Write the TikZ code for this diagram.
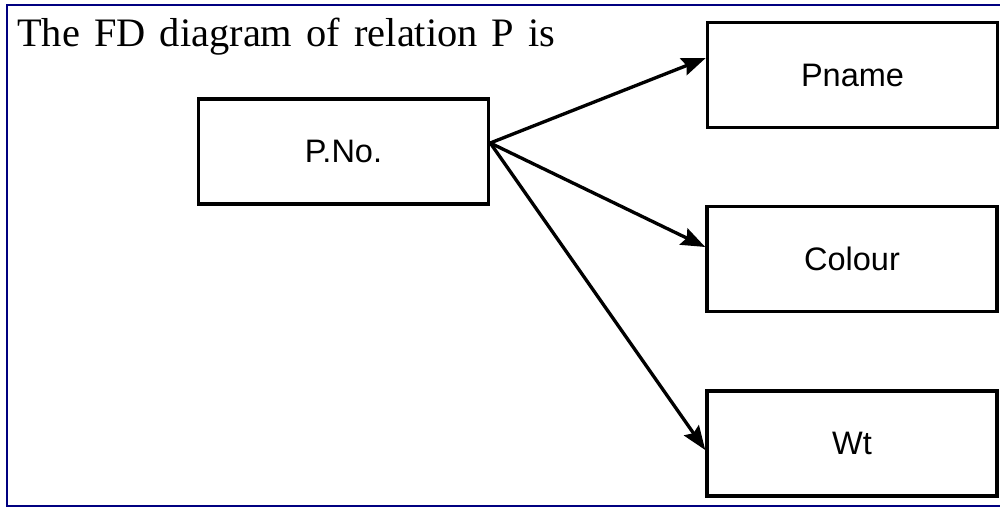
\documentclass[tikz,border=0pt]{standalone}
\usepackage{fontspec}
\setmainfont{Liberation Serif}
\newfontfamily\boxfont{Liberation Sans}
\newfontfamily\titlefont[WordSpace=1.4]{Liberation Serif}
\usetikzlibrary{arrows.meta}

\begin{document}
\begin{tikzpicture}[
  attr/.style={draw=black, line width=2pt, inner sep=0pt,
    minimum width=5.8cm, minimum height=2.1cm,
    font=\boxfont\fontsize{18.5}{20}\selectfont},
  fd/.style={black, line width=1.9pt,
    -{Stealth[length=0.48cm, width=0.36cm, inset=0.07cm]}}]
\useasboundingbox (0,0) rectangle (20,10.16);
\draw [color={rgb,255:red,0;green,0;blue,128}, line width=1.2pt]
  (20,10.06) -- (0.14,10.06) -- (0.14,0.04) -- (20,0.04);
\node [anchor=base west, font=\titlefont\fontsize{23}{27}\selectfont]
  (title) at (0.22,9.22) {The FD diagram of relation P is};
\node [attr] (pno) at (6.87,7.13) {P.No.};
\node [attr] (pname) at (17.05,8.66) {Pname};
\node [attr] (colour) at (17.04,4.98) {Colour};
\node [attr] (wt) at (17.04,1.29) {Wt};
\coordinate (src) at ([yshift=0.17cm]pno.east);
\coordinate (topin) at ([yshift=0.34cm]pname.west);
\coordinate (midin) at ([yshift=0.24cm]colour.west);
\coordinate (lowin) at ([yshift=-0.13cm]wt.west);
\draw [fd] (src) -- (topin);
\draw [fd] (src) -- (midin);
\draw [fd] (src) -- (lowin);
\end{tikzpicture}
\end{document}
